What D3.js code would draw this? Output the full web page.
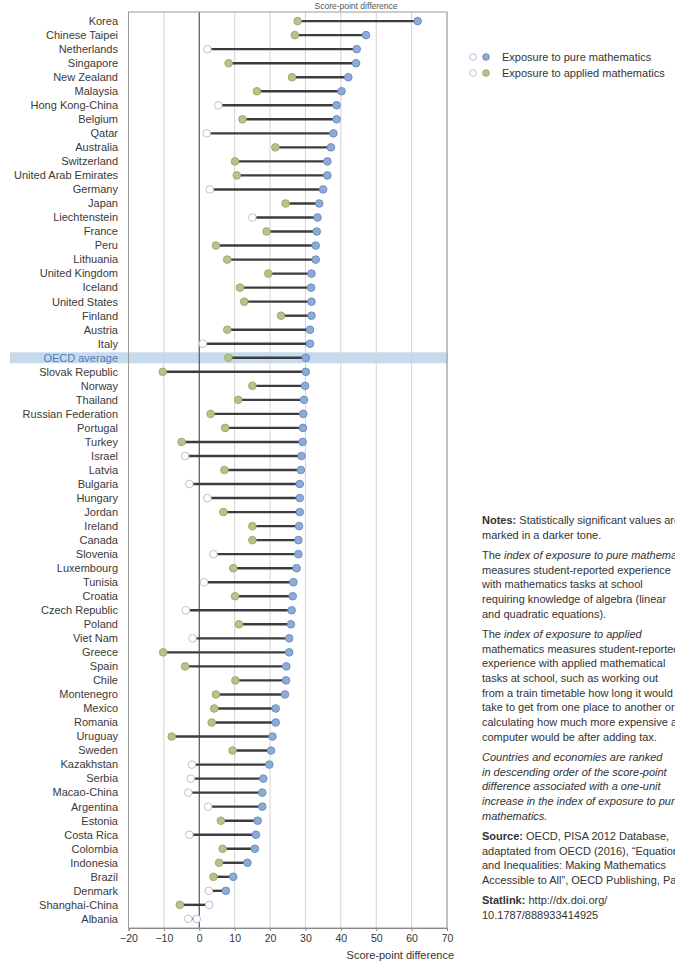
<!DOCTYPE html>
<html>
<head>
<meta charset="utf-8">
<script src="https://cdn.jsdelivr.net/npm/d3@7"></script>
<style>
  html, body { margin: 0; padding: 0; background: #fff; }
  svg { display: block; font-family: "Liberation Sans", Arial, sans-serif; }
</style>
</head>
<body>
<svg id="chart" width="675" height="961"></svg>
<script>
// ---------- data ----------
const countries = ["Korea","Chinese Taipei","Netherlands","Singapore","New Zealand","Malaysia","Hong Kong-China","Belgium","Qatar","Australia","Switzerland","United Arab Emirates","Germany","Japan","Liechtenstein","France","Peru","Lithuania","United Kingdom","Iceland","United States","Finland","Austria","Italy","OECD average","Slovak Republic","Norway","Thailand","Russian Federation","Portugal","Turkey","Israel","Latvia","Bulgaria","Hungary","Jordan","Ireland","Canada","Slovenia","Luxembourg","Tunisia","Croatia","Czech Republic","Poland","Viet Nam","Greece","Spain","Chile","Montenegro","Mexico","Romania","Uruguay","Sweden","Kazakhstan","Serbia","Macao-China","Argentina","Estonia","Costa Rica","Colombia","Indonesia","Brazil","Denmark","Shanghai-China","Albania"];
const pureValues = [61.7,47.1,44.5,44.3,42.1,40.2,38.8,38.8,37.9,37.2,36.2,36.2,35.0,33.9,33.4,33.2,32.9,32.9,31.7,31.6,31.7,31.7,31.3,31.3,30.1,30.1,29.9,29.6,29.4,29.3,29.2,28.9,28.7,28.4,28.4,28.4,28.2,28.0,28.0,27.5,26.6,26.4,26.1,25.9,25.4,25.4,24.6,24.5,24.2,21.6,21.6,20.7,20.3,19.8,18.1,17.8,17.8,16.5,16.0,15.7,13.6,9.6,7.5,2.8,-0.7];
const appliedValues = [27.8,27.0,2.3,8.3,26.2,16.3,5.4,12.2,2.1,21.5,10.1,10.6,3.0,24.4,15.0,19.0,4.7,7.9,19.5,11.5,12.7,23.1,7.9,1.0,8.2,-10.3,15.0,11.0,3.2,7.3,-5.0,-4.0,7.1,-2.8,2.3,6.8,15.0,15.0,4.0,9.6,1.3,10.1,-3.8,11.2,-1.9,-10.2,-4.0,10.2,4.7,4.2,3.5,-7.8,9.4,-2.1,-2.4,-3.1,2.5,6.1,-2.8,6.6,5.6,4.0,2.7,-5.5,-3.1];
// 1 = statistically significant (darker tone), 0 = not significant
const pureSig = [1,1,1,1,1,1,1,1,1,1,1,1,1,1,1,1,1,1,1,1,1,1,1,1,1,1,1,1,1,1,1,1,1,1,1,1,1,1,1,1,1,1,1,1,1,1,1,1,1,1,1,1,1,1,1,1,1,1,1,1,1,1,1,0,0];
const appliedSig = [1,1,0,1,1,1,0,1,0,1,1,1,0,1,0,1,1,1,1,1,1,1,1,0,1,1,1,1,1,1,1,0,1,0,0,1,1,1,0,1,0,1,0,1,0,1,1,1,1,1,1,1,1,0,0,0,0,1,0,1,1,1,0,1,0];
const tickValues = [-20,-10,0,10,20,30,40,50,60,70];
const axisTitle = "Score-point difference";
const highlightCountry = "OECD average";
const legendLabels = ["Exposure to pure mathematics","Exposure to applied mathematics"];

const notes = [
  [[["Notes:","b"],[" Statistically significant values are",""]], [["marked in a darker tone.",""]]],
  [[["The ",""],["index of exposure to pure mathematics","i"]], [["measures student-reported experience",""]], [["with mathematics tasks at school",""]], [["requiring knowledge of algebra (linear",""]], [["and quadratic equations).",""]]],
  [[["The ",""],["index of exposure to applied","i"]], [["mathematics measures student-reported",""]], [["experience with applied mathematical",""]], [["tasks at school, such as working out",""]], [["from a train timetable how long it would",""]], [["take to get from one place to another or",""]], [["calculating how much more expensive a",""]], [["computer would be after adding tax.",""]]],
  [[["Countries and economies are ranked","i"]], [["in descending order of the score-point","i"]], [["difference associated with a one-unit","i"]], [["increase in the index of exposure to pure","i"]], [["mathematics.","i"]]],
  [[["Source:","b"],[" OECD, PISA 2012 Database,",""]], [["adaptated from OECD (2016), \u201cEquations",""]], [["and Inequalities: Making Mathematics",""]], [["Accessible to All\u201d, OECD Publishing, Paris.",""]]],
  [[["Statlink:","b"],[" http://dx.doi.org/",""]], [["10.1787/888933414925",""]]]
];

// ---------- layout ----------
const svg = d3.select("#chart");
const plot = {left: 128.5, right: 447, top: 12, bottom: 928};

const x = d3.scaleLinear().domain([-20, 70]).range([plot.left, plot.right]);
const y = d3.scaleBand().domain(countries).range([plot.top, plot.bottom]).paddingOuter(0.15).paddingInner(0);
const yc = c => y(c) + y.bandwidth() / 2;

const rows = countries.map((c, i) => ({
  country: c, pure: pureValues[i], applied: appliedValues[i],
  pSig: pureSig[i], aSig: appliedSig[i]
}));

// top title (partly hidden in the original crop)
svg.append("text").attr("x", 356).attr("y", 8.5).attr("text-anchor", "middle")
  .attr("font-size", 8.5).attr("fill", "#555").text(axisTitle);

// highlight band
svg.append("rect")
  .attr("x", 10).attr("width", plot.right + 1 - 10)
  .attr("y", yc(highlightCountry) - 5.5).attr("height", 11)
  .attr("fill", "#c6daee");

// gridlines
svg.append("g").selectAll("line").data(tickValues).join("line")
  .attr("x1", d => x(d)).attr("x2", d => x(d))
  .attr("y1", plot.top).attr("y2", plot.bottom)
  .attr("stroke", d => d === 0 ? "#555" : "#d2d2d2")
  .attr("stroke-width", d => d === 0 ? 1.2 : 1);

// frame
svg.append("rect").attr("x", plot.left).attr("y", plot.top)
  .attr("width", plot.right - plot.left).attr("height", plot.bottom - plot.top)
  .attr("fill", "none").attr("stroke", "#9a9a9a").attr("stroke-width", 1);

// x axis
const xAxis = svg.append("g").attr("transform", `translate(0,${plot.bottom})`)
  .call(d3.axisBottom(x).tickValues(tickValues).tickSize(3).tickPadding(4).tickFormat(d3.format("d")));
xAxis.select(".domain").attr("stroke", "#888");
xAxis.selectAll(".tick line").attr("stroke", "#888");
xAxis.selectAll(".tick text").attr("font-size", 10.5).attr("fill", "#333")
  .attr("font-family", "Liberation Sans, Arial, sans-serif");

svg.append("text").attr("x", 454).attr("y", 959).attr("text-anchor", "end")
  .attr("font-size", 11).attr("fill", "#333").text(axisTitle);

// country labels
svg.append("g").selectAll("text").data(rows).join("text")
  .attr("x", 118).attr("y", d => yc(d.country)).attr("dy", "0.35em")
  .attr("text-anchor", "end").attr("font-size", 11)
  .attr("fill", d => d.country === highlightCountry ? "#4a7cbc" : "#3a3a3a")
  .text(d => d.country);

// connecting lines
svg.append("g").selectAll("line").data(rows).join("line")
  .attr("x1", d => x(d.applied)).attr("x2", d => x(d.pure))
  .attr("y1", d => yc(d.country)).attr("y2", d => yc(d.country))
  .attr("stroke", "#3c3c3c").attr("stroke-width", 2.4);

// colours
const col = {
  pureFill: "#8eabd6", pureStroke: "#6a8fc6",
  pureNsFill: "#ffffff", pureNsStroke: "#aac0e0",
  appFill: "#b8c38a", appStroke: "#9eab6c",
  appNsFill: "#ffffff", appNsStroke: "#c4c4b4"
};
const r = 3.8;

// applied markers
svg.append("g").selectAll("circle").data(rows).join("circle")
  .attr("cx", d => x(d.applied)).attr("cy", d => yc(d.country)).attr("r", r)
  .attr("fill", d => d.aSig ? col.appFill : col.appNsFill)
  .attr("stroke", d => d.aSig ? col.appStroke : col.appNsStroke).attr("stroke-width", 1);

// pure markers
svg.append("g").selectAll("circle").data(rows).join("circle")
  .attr("cx", d => x(d.pure)).attr("cy", d => yc(d.country)).attr("r", r)
  .attr("fill", d => d.pSig ? col.pureFill : col.pureNsFill)
  .attr("stroke", d => d.pSig ? col.pureStroke : col.pureNsStroke).attr("stroke-width", 1);

// legend
const legend = svg.append("g");
const legendItems = [
  {label: legendLabels[0], ns: [col.pureNsFill, col.pureNsStroke], s: [col.pureFill, col.pureStroke]},
  {label: legendLabels[1], ns: [col.appNsFill, col.appNsStroke], s: [col.appFill, col.appStroke]}
];
legendItems.forEach((it, i) => {
  const ly = 57 + i * 16;
  legend.append("circle").attr("cx", 473).attr("cy", ly).attr("r", 3.3)
    .attr("fill", it.ns[0]).attr("stroke", it.ns[1]);
  legend.append("circle").attr("cx", 486).attr("cy", ly).attr("r", 3.3)
    .attr("fill", it.s[0]).attr("stroke", it.s[1]);
  legend.append("text").attr("x", 502).attr("y", ly).attr("dy", "0.35em")
    .attr("font-size", 11).attr("fill", "#333").text(it.label);
});

// notes
const notesG = svg.append("g").attr("font-size", 11).attr("fill", "#333");
const lineH = 14.7, paraGap = 5.5;
let yy = 524;
notes.forEach(para => {
  para.forEach(line => {
    const t = notesG.append("text").attr("x", 482).attr("y", yy);
    line.forEach(seg => {
      t.append("tspan").text(seg[0])
        .attr("font-weight", seg[1] === "b" ? "bold" : null)
        .attr("font-style", seg[1] === "i" ? "italic" : null);
    });
    yy += lineH;
  });
  yy += paraGap;
});
</script>
</body>
</html>
